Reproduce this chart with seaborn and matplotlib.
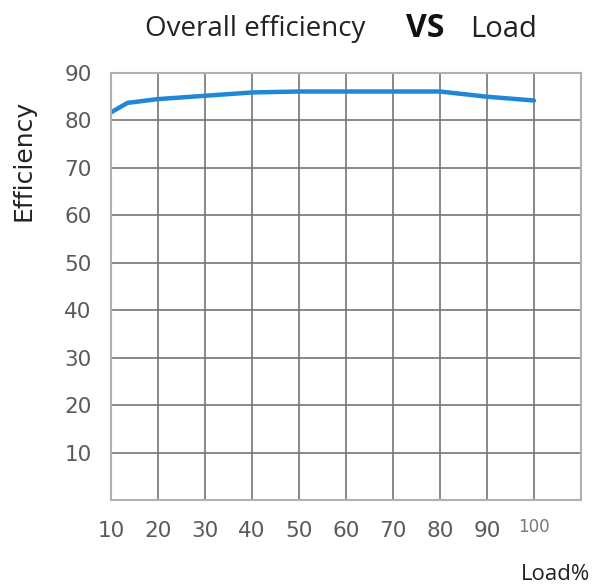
import matplotlib
matplotlib.use("Agg")
import matplotlib.pyplot as plt
import seaborn as sns
import pandas as pd

load = [10, 13.5, 20, 30, 40, 50, 60, 70, 80, 90, 100]
efficiency = [81.7, 83.7, 84.5, 85.2, 85.9, 86.1, 86.1, 86.1, 86.1, 85.0, 84.2]
x_ticks = [10, 20, 30, 40, 50, 60, 70, 80, 90, 100]
y_ticks = [10, 20, 30, 40, 50, 60, 70, 80, 90]

df = pd.DataFrame({"Load": load, "Efficiency": efficiency})

sns.set_style("white")
plt.rcParams["font.family"] = ["DejaVu Sans"]

fig = plt.figure(figsize=(5.97, 5.87), dpi=100)
ax = fig.add_axes([111 / 597, 1 - 500 / 587, 470 / 597, 427 / 587])

sns.lineplot(data=df, x="Load", y="Efficiency", ax=ax, color="#1f87d8", linewidth=3.2)

ax.set_xlim(10, 110)
ax.set_ylim(0, 90)
ax.set_xticks(range(10, 111, 10))
ax.set_yticks(range(0, 91, 10))
ax.grid(True, color="#757575", linewidth=1.2)
ax.set_axisbelow(True)
for s in ax.spines.values():
    s.set_color("#b0b0b0")
    s.set_linewidth(1.5)

ax.set_xticklabels([str(v) if v in x_ticks[:-1] else "" for v in range(10, 111, 10)])
ax.set_yticklabels([str(v) if v in y_ticks else "" for v in range(0, 91, 10)])
ax.tick_params(axis="both", length=0, labelsize=15.5, labelcolor="#5a5a5a")
ax.tick_params(axis="x", pad=15)
ax.tick_params(axis="y", pad=14)
ax.text(100, -5.7, "100", ha="center", va="center", fontsize=12, color="#777777")

ax.set_xlabel("")
ax.set_ylabel("")
fig.text(0.040, 0.727, "Efficiency", rotation=90, ha="center", va="center",
         fontsize=18, family="DejaVu Sans", color="#222222")
fig.text(0.988, 0.022, "Load%", ha="right", va="center", fontsize=16,
         family="Open Sans", color="#222222")

fig.text(365 / 597, 0.950, "Overall efficiency", ha="right", va="center",
         fontsize=20, family="Open Sans", color="#222222")
fig.text(425 / 597, 0.952, "VS", ha="center", va="center", fontsize=23,
         family="Open Sans", weight="bold", color="#111111")
fig.text(470 / 597, 0.950, "Load", ha="left", va="center", fontsize=21,
         family="Open Sans", color="#222222")

fig.savefig("out.png", dpi=100)
